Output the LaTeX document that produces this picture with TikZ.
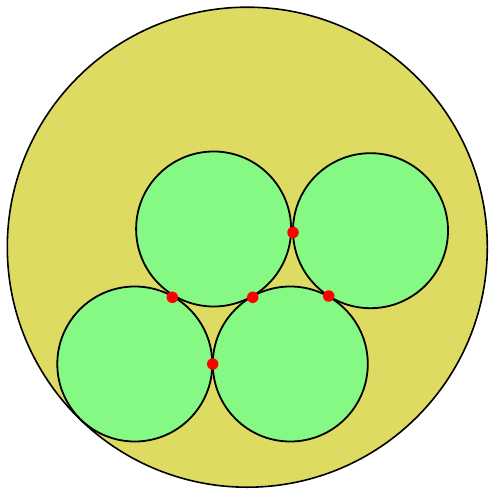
\documentclass[tikz,border=0pt]{standalone}
\begin{document}
\begin{tikzpicture}[x=1pt,y=-1pt,
  outerc/.style={circle,draw=black,line width=1.6pt,fill=olivey,minimum size=480pt,inner sep=0pt},
  innerc/.style={circle,draw=black,line width=1.8pt,fill=greenc,minimum size=155pt,inner sep=0pt},
  tdot/.style={circle,fill=red,minimum size=11.5pt,inner sep=0pt}]
\definecolor{olivey}{RGB}{221,219,98}
\definecolor{greenc}{RGB}{134,248,132}
\useasboundingbox (0,0) rectangle (488,489);
\node[outerc] (big) at (247.3,247.2) {};
\node[innerc] (c1) at (213.6,229) {};
\node[innerc] (c2) at (370.5,230.7) {};
\node[innerc] (c3) at (134.8,364) {};
\node[innerc] (c4) at (290.3,364) {};
\node[tdot] (t12) at (293,232.5) {};
\node[tdot] (t13) at (172.3,297.3) {};
\node[tdot] (t14) at (252.7,297.3) {};
\node[tdot] (t24) at (328.7,296) {};
\node[tdot] (t34) at (212.7,364) {};
\end{tikzpicture}
\end{document}
